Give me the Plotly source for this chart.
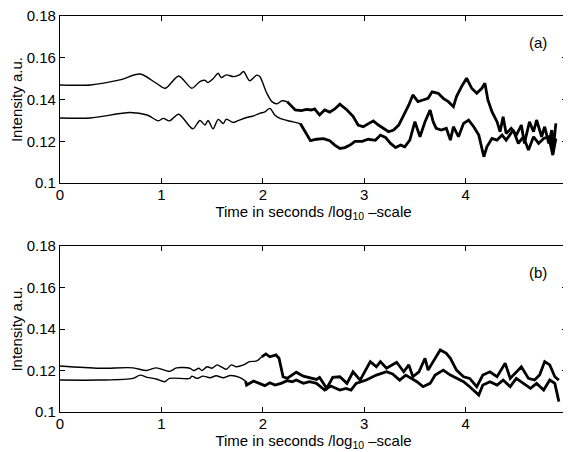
import plotly.graph_objects as go
from plotly.subplots import make_subplots

# ---- data (x in log10 seconds, y intensity a.u.) ----
A_UP_X = [0, 0.3, 0.59, 0.79, 0.95, 1.04, 1.17, 1.30, 1.38, 1.43, 1.46, 1.51, 1.56, 1.59, 1.64, 1.71, 1.77, 1.81, 1.87, 1.94,
          1.97, 2.04, 2.09, 2.14, 2.19, 2.24, 2.32, 2.38, 2.43, 2.48, 2.51, 2.56, 2.61, 2.66, 2.71, 2.76, 2.83, 2.89, 2.94, 2.99,
          3.04, 3.09, 3.14, 3.19, 3.24, 3.29, 3.34, 3.39, 3.44, 3.48, 3.53, 3.58, 3.63, 3.67, 3.73, 3.78, 3.83, 3.88, 3.91, 3.96,
          4.01, 4.06, 4.11, 4.16, 4.19, 4.22, 4.26, 4.31, 4.34, 4.37, 4.40, 4.45, 4.50, 4.55, 4.58, 4.63, 4.67, 4.70, 4.75, 4.78,
          4.82, 4.85, 4.86, 4.89]
A_UP_Y = [0.147, 0.147, 0.1494, 0.1522, 0.1478, 0.1454, 0.1513, 0.1454, 0.1486, 0.1492, 0.1482, 0.1500, 0.1526, 0.1505, 0.1518, 0.1510, 0.1518, 0.1534, 0.1490, 0.1517,
          0.151, 0.143, 0.139, 0.138, 0.1394, 0.139, 0.135, 0.1347, 0.1353, 0.1350, 0.1355, 0.1326, 0.135, 0.134, 0.1355, 0.1378, 0.135, 0.132, 0.1278, 0.127,
          0.1285, 0.1298, 0.1278, 0.1262, 0.1246, 0.1254, 0.1278, 0.1326, 0.1374, 0.1422, 0.139, 0.1398, 0.1406, 0.1437, 0.143, 0.1406, 0.139, 0.1366, 0.1414, 0.1462,
          0.1502, 0.1454, 0.143, 0.1454, 0.1478, 0.1398, 0.1342, 0.1294, 0.1246, 0.1318, 0.1238, 0.1262, 0.123, 0.1278, 0.119, 0.1294, 0.1246, 0.1302, 0.1222, 0.127,
          0.119, 0.1254, 0.1142, 0.1286]

A_LO_X = [0, 0.3, 0.69, 0.86, 0.97, 1.02, 1.08, 1.17, 1.31, 1.38, 1.43, 1.46, 1.51, 1.56, 1.61, 1.64, 1.71, 1.77, 1.84, 1.91,
          1.97, 2.02, 2.07, 2.12, 2.17, 2.24, 2.30, 2.37, 2.42, 2.47, 2.53, 2.60, 2.66, 2.71, 2.76, 2.81, 2.86, 2.91, 2.98, 3.04,
          3.11, 3.16, 3.21, 3.26, 3.31, 3.36, 3.40, 3.45, 3.50, 3.55, 3.60, 3.65, 3.68, 3.71, 3.76, 3.81, 3.85, 3.88, 3.93, 3.98,
          4.03, 4.08, 4.13, 4.16, 4.18, 4.21, 4.26, 4.31, 4.36, 4.40, 4.47, 4.52, 4.57, 4.62, 4.67, 4.72, 4.77, 4.82, 4.86, 4.89]
A_LO_Y = [0.1312, 0.1312, 0.1338, 0.1326, 0.1298, 0.1310, 0.1298, 0.133, 0.126, 0.130, 0.1278, 0.130, 0.126, 0.1305, 0.1285, 0.1306, 0.129, 0.1302, 0.1314, 0.1322,
          0.1334, 0.1341, 0.1358, 0.1325, 0.131, 0.130, 0.1293, 0.1285, 0.1246, 0.1203, 0.121, 0.1213, 0.1203, 0.1182, 0.1166, 0.117, 0.1182, 0.120, 0.120, 0.121,
          0.1205, 0.123, 0.1219, 0.119, 0.117, 0.1182, 0.1174, 0.1206, 0.1294, 0.1222, 0.1294, 0.135, 0.1294, 0.1262, 0.1254, 0.1262, 0.1206, 0.127, 0.1222, 0.1286,
          0.1302, 0.127, 0.123, 0.1158, 0.1126, 0.1174, 0.1214, 0.1206, 0.123, 0.1206, 0.1254, 0.119, 0.1222, 0.1158, 0.1222, 0.119, 0.1214, 0.1222, 0.1134, 0.1214]

B_UP_X = [0, 0.39, 0.72, 0.85, 0.95, 1.08, 1.15, 1.28, 1.32, 1.37, 1.40, 1.45, 1.50, 1.55, 1.60, 1.64, 1.69, 1.74, 1.81, 1.87,
          1.94, 1.99, 2.03, 2.07, 2.13, 2.16, 2.20, 2.24, 2.33, 2.40, 2.46, 2.53, 2.56, 2.63, 2.69, 2.76, 2.83, 2.89, 2.96, 3.06,
          3.12, 3.16, 3.22, 3.32, 3.39, 3.44, 3.48, 3.54, 3.60, 3.63, 3.68, 3.75, 3.81, 3.85, 3.91, 3.98, 4.04, 4.11, 4.17, 4.24,
          4.31, 4.39, 4.44, 4.50, 4.55, 4.62, 4.68, 4.73, 4.78, 4.83, 4.88, 4.92]
B_UP_Y = [0.1222, 0.1211, 0.1213, 0.120, 0.1213, 0.1196, 0.1213, 0.1211, 0.120, 0.1211, 0.120, 0.1218, 0.1211, 0.1227, 0.1215, 0.1206, 0.1227, 0.1218, 0.1227, 0.1243,
          0.1246, 0.1266, 0.128, 0.1266, 0.1275, 0.1259, 0.117, 0.1162, 0.1192, 0.1173, 0.1167, 0.1157, 0.1167, 0.1114, 0.1167, 0.117, 0.1138, 0.1194, 0.1154, 0.1243,
          0.1218, 0.1243, 0.1211, 0.124, 0.1194, 0.1227, 0.117, 0.1194, 0.1259, 0.1202, 0.1243, 0.1299, 0.1283, 0.1259, 0.1202, 0.117, 0.1162, 0.1122, 0.1178, 0.1194,
          0.117, 0.1235, 0.1162, 0.1194, 0.1218, 0.1162, 0.1154, 0.1178, 0.1243, 0.1227, 0.117, 0.1154]

B_LO_X = [0, 0.39, 0.72, 0.79, 0.86, 0.95, 1.03, 1.08, 1.28, 1.30, 1.35, 1.41, 1.48, 1.54, 1.61, 1.68, 1.77, 1.83, 1.84, 1.91,
          1.97, 2.02, 2.07, 2.12, 2.18, 2.24, 2.29, 2.33, 2.40, 2.46, 2.53, 2.61, 2.67, 2.76, 2.82, 2.87, 2.92, 3.02, 3.12, 3.22,
          3.28, 3.35, 3.41, 3.52, 3.58, 3.65, 3.70, 3.78, 3.85, 3.91, 3.98, 4.04, 4.13, 4.17, 4.24, 4.31, 4.37, 4.44, 4.50, 4.57,
          4.64, 4.70, 4.77, 4.83, 4.88, 4.92]
B_LO_Y = [0.1154, 0.1154, 0.1162, 0.1178, 0.1167, 0.1159, 0.1146, 0.1162, 0.1162, 0.1173, 0.1162, 0.1173, 0.1165, 0.1175, 0.1165, 0.1176, 0.1167, 0.1149, 0.113, 0.1149,
          0.1138, 0.1127, 0.1141, 0.113, 0.1138, 0.1151, 0.1146, 0.1154, 0.1138, 0.1146, 0.1138, 0.1106, 0.1125, 0.1106, 0.1114, 0.1106, 0.1138, 0.1154, 0.1178, 0.1194,
          0.1183, 0.1154, 0.1178, 0.1146, 0.1122, 0.1138, 0.1178, 0.1202, 0.1178, 0.1162, 0.1146, 0.1122, 0.1082, 0.113, 0.1146, 0.113, 0.1154, 0.1122, 0.1162, 0.1138,
          0.1114, 0.1138, 0.1106, 0.1154, 0.1138, 0.105]

X_TICKS = [0, 1, 2, 3, 4, 5]
Y_TICKS = [0.1, 0.12, 0.14, 0.16, 0.18]
PANEL_LABELS = ["(a)", "(b)"]
X_TITLE = "Time in seconds /log<sub>10</sub> \u2013scale"
Y_TITLE = "Intensity a.u."

FONT = "Liberation Sans, Arial, Helvetica, sans-serif"

fig = make_subplots(rows=2, cols=1, vertical_spacing=0.16)


def add_series(xs, ys, cut, row):
    # smooth early part drawn thin, noisy late part drawn thick (as in the print)
    k = next(i for i, v in enumerate(xs) if v >= cut)
    fig.add_trace(go.Scatter(x=xs[:k + 1], y=ys[:k + 1], mode="lines",
                             line=dict(color="black", width=1.4, shape="spline", smoothing=0.8),
                             showlegend=False), row=row, col=1)
    fig.add_trace(go.Scatter(x=xs[k:], y=ys[k:], mode="lines",
                             line=dict(color="black", width=2.8), showlegend=False), row=row, col=1)


add_series(A_UP_X, A_UP_Y, 2.2, 1)
add_series(A_LO_X, A_LO_Y, 2.35, 1)
add_series(B_UP_X, B_UP_Y, 1.95, 2)
add_series(B_LO_X, B_LO_Y, 1.8, 2)

axis_common = dict(showline=True, linecolor="black", linewidth=1.2, mirror="ticks",
                   ticks="inside", ticklen=5, tickcolor="black", tickwidth=1,
                   showgrid=False, zeroline=False, automargin=False,
                   ticklabeloverflow="allow",
                   tickfont=dict(family=FONT, size=15, color="black"))

for r in (1, 2):
    fig.update_xaxes(range=[0, 5], tickvals=X_TICKS, ticktext=[str(t) for t in X_TICKS],
                     ticklabelstandoff=-2,
                     title=dict(text=X_TITLE, font=dict(family=FONT, size=15, color="black"), standoff=0),
                     row=r, col=1, **axis_common)
    fig.update_yaxes(range=[0.1, 0.18], tickvals=Y_TICKS, ticktext=[f"{t:g}" for t in Y_TICKS],
                     title=dict(text=Y_TITLE, font=dict(family=FONT, size=15, color="black"), standoff=2),
                     row=r, col=1, **axis_common)

# the page body adds an 8 px offset, so the figure is sized/margined to compensate
fig.update_layout(
    width=563, height=444,
    margin=dict(l=52, r=4, t=8, b=40),
    paper_bgcolor="white", plot_bgcolor="white",
    font=dict(family=FONT, color="black"),
)
fig.update_yaxes(domain=[0.578, 1.0], row=1, col=1)
fig.update_yaxes(domain=[0.0, 0.419], row=2, col=1)

for i, lab in enumerate(PANEL_LABELS):
    xref = "x" if i == 0 else "x2"
    yref = "y" if i == 0 else "y2"
    fig.add_annotation(x=4.71, y=0.1672, xref=xref, yref=yref, text=lab, showarrow=False,
                       font=dict(family=FONT, size=15, color="black"))

fig.write_html("out.html")
